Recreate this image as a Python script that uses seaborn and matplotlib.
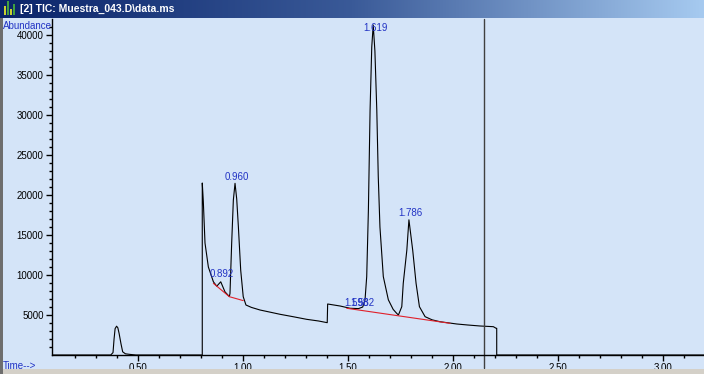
import numpy as np
import pandas as pd
import matplotlib
matplotlib.use("Agg")
import matplotlib.pyplot as plt
import seaborn as sns
from matplotlib.patches import Rectangle

# ---------------- data ----------------
time_min = [0.0905, 0.370, 0.381, 0.386, 0.391, 0.398, 0.404, 0.410, 0.419, 0.427,
            0.440, 0.460, 0.490, 0.806, 0.806, 0.811, 0.819, 0.835, 0.859, 0.875,
            0.894, 0.914, 0.935, 0.938, 0.946, 0.954, 0.962, 0.970, 0.978, 0.989,
            1.001, 1.014, 1.040, 1.081, 1.130, 1.176, 1.240, 1.303, 1.360, 1.401,
            1.403, 1.462, 1.510, 1.550, 1.570, 1.581, 1.589, 1.597, 1.605, 1.613,
            1.620, 1.628, 1.637, 1.644, 1.652, 1.668, 1.692, 1.715, 1.732, 1.740,
            1.756, 1.763, 1.780, 1.790, 1.808, 1.824, 1.840, 1.867, 1.900, 1.938,
            2.018, 2.070, 2.129, 2.192, 2.205, 2.208, 2.208, 3.195]
abundance = [0, 0, 300, 2000, 3300, 3600, 3400, 2700, 1400, 400,
             150, 80, 0, 0, 21500, 19200, 14000, 11000, 9150, 8600,
             9150, 7900, 7300, 7700, 13960, 19375, 21460, 19500, 16000, 10600,
             7290, 6250, 5950, 5625, 5350, 5090, 4780, 4460, 4250, 4040,
             6375, 6125, 5840, 5800, 6000, 6900, 9800, 18100, 30600, 38500,
             41250, 38000, 30600, 22300, 16000, 9800, 6900, 5700, 5200, 5000,
             6040, 8960, 13100, 16900, 13100, 8960, 6040, 4790, 4400, 4160,
             3875, 3750, 3625, 3540, 3340, 3340, 0, 0]

baseline1_t = [0.859, 0.935, 1.001]
baseline1_y = [8960, 7290, 6800]
baseline2_t = [1.494, 1.986]
baseline2_y = [5840, 3960]

peak_labels = ["0.892", "0.960", "1.598", "1.582", "1.619", "1.786"]
peak_label_t = [0.899, 0.969, 1.538, 1.569, 1.629, 1.798]
peak_label_y = [10100, 22300, 6500, 6500, 40900, 17700]

cursor_t = 2.149

x_ticks = [0.5, 1.0, 1.5, 2.0, 2.5, 3.0]
x_tick_labels = ["0.50", "1.00", "1.50", "2.00", "2.50", "3.00"]
y_ticks = [5000, 10000, 15000, 20000, 25000, 30000, 35000, 40000]
y_tick_labels = ["5000", "10000", "15000", "20000", "25000", "30000", "35000", "40000"]

title = "[2] TIC: Muestra_043.D\\data.ms"

# ---------------- styling ----------------
W, H = 704, 374
bg = "#d4e4f8"
blue = "#2233c4"
sns.set_theme(style="white")
plt.rcParams["font.family"] = ["Liberation Sans", "DejaVu Sans"]

fig = plt.figure(figsize=(W / 100, H / 100), dpi=100)
fig.patch.set_facecolor(bg)

ax = fig.add_axes([52 / W, 19 / H, (W - 52) / W, 336 / H])
ax.set_facecolor(bg)

sig = pd.DataFrame({"t": time_min, "a": abundance})
sns.lineplot(data=sig, x="t", y="a", sort=False, estimator=None, color="black",
             linewidth=0.8, ax=ax)
b1 = pd.DataFrame({"t": baseline1_t, "a": baseline1_y})
b2 = pd.DataFrame({"t": baseline2_t, "a": baseline2_y})
sns.lineplot(data=b1, x="t", y="a", sort=False, estimator=None, color="#e0202a",
             linewidth=0.8, ax=ax)
sns.lineplot(data=b2, x="t", y="a", sort=False, estimator=None, color="#e0202a",
             linewidth=0.8, ax=ax)

for lab, tt, yy in zip(peak_labels, peak_label_t, peak_label_y):
    ax.text(tt, yy, lab, color=blue, fontsize=7, ha="center", va="center")

ax.axvline(cursor_t, ymin=-0.04, ymax=1, color="#404040", linewidth=1, clip_on=False)

ax.set_xlim(0.0905, 3.195)
ax.set_ylim(0, 42000)
ax.set_xlabel("")
ax.set_ylabel("")
ax.set_xticks(x_ticks, labels=x_tick_labels)
ax.set_yticks(y_ticks, labels=y_tick_labels)
ax.set_xticks(np.arange(0.2, 3.2, 0.1), minor=True)
ax.set_yticks(np.arange(1000, 42000, 1000), minor=True)
ax.tick_params(axis="both", which="major", direction="out", length=4, width=1,
               color="black", labelsize=7, pad=2, labelcolor="black")
ax.tick_params(axis="both", which="minor", direction="out", length=2.5, width=1,
               color="black")
ax.tick_params(axis="x", which="both", bottom=True)
ax.tick_params(axis="y", which="both", left=True)
for s in ["top", "right"]:
    ax.spines[s].set_visible(False)
for s in ["left", "bottom"]:
    ax.spines[s].set_color("black")
    ax.spines[s].set_linewidth(1)

fig.text(3 / W, 1 - 26 / H, "Abundance", color=blue, fontsize=7, ha="left", va="center")
fig.text(3 / W, 1 - 366 / H, "Time-->", color=blue, fontsize=7, ha="left", va="center")

# window decorations
fig.add_artist(Rectangle((0, 0), 1, 5 / H, transform=fig.transFigure,
                         facecolor="#d4d0c8", edgecolor="none", zorder=10))
fig.add_artist(Rectangle((0, 0), 3 / W, 1, transform=fig.transFigure,
                         facecolor="#6e6e6e", edgecolor="none", zorder=10))

tax = fig.add_axes([0, 1 - 18 / H, 1, 18 / H], zorder=20)
grad = np.linspace(0, 1, 256).reshape(1, -1)
cmap = matplotlib.colors.LinearSegmentedColormap.from_list(
    "tb", ["#0a246a", "#3a5a98", "#a6caf0"])
tax.imshow(grad, aspect="auto", cmap=cmap, extent=[0, 1, 0, 1])
tax.set_xlim(0, 1)
tax.set_ylim(0, 1)
tax.axis("off")
tax.text(20 / W, 0.5, title, color="white", fontsize=7.5, fontweight="bold",
         ha="left", va="center")
# small icon
for i, (c, h) in enumerate([("#c8d030", 0.5), ("#40a040", 0.8), ("#c8d030", 0.35),
                            ("#40a040", 0.65)]):
    tax.add_patch(Rectangle(((4 + 3 * i) / W, 0.15), 2 / W, h,
                            facecolor=c, edgecolor="none"))

fig.savefig("out.png", dpi=100, facecolor=fig.get_facecolor())
